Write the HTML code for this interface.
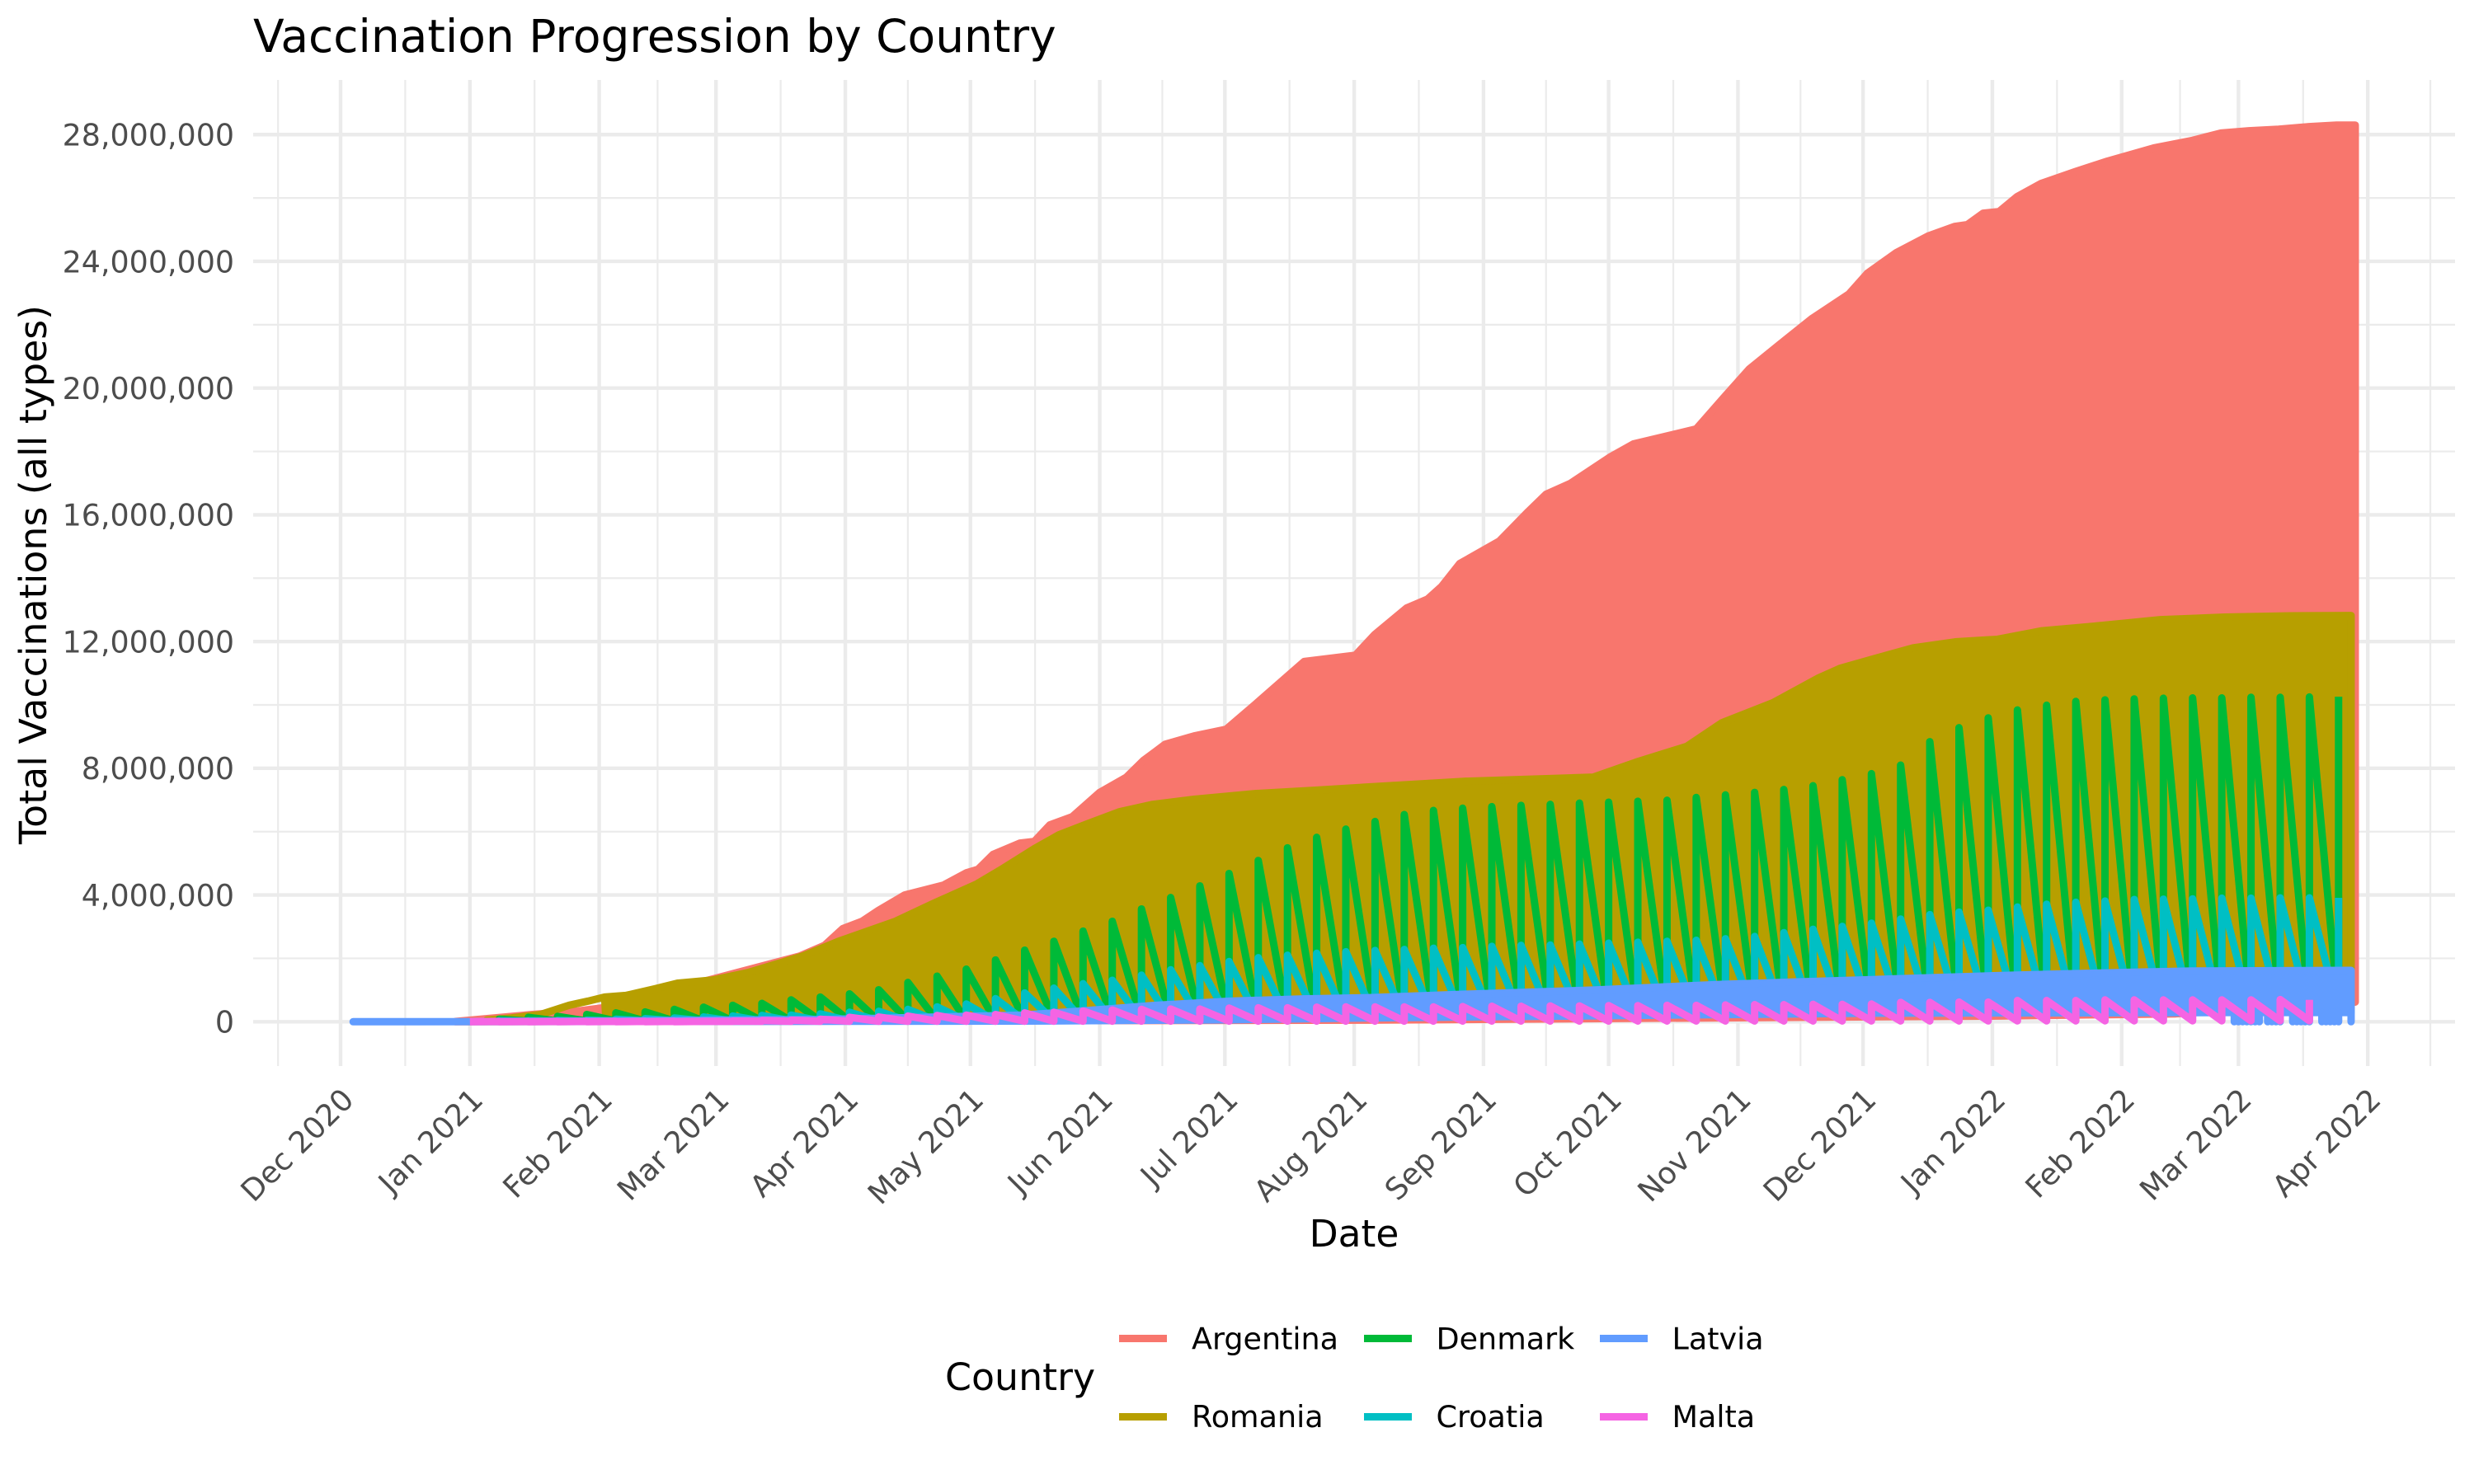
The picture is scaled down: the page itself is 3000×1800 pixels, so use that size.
<!DOCTYPE html>
<html lang="en">
<head>
<meta charset="utf-8">
<title>Vaccination Progression by Country</title>
<style>
html,body{margin:0;padding:0;background:#fff;}
svg{display:block;font-family:"DejaVu Sans","Liberation Sans",sans-serif;}
</style>
</head>
<body>
<svg id="chart" xmlns="http://www.w3.org/2000/svg" width="3000" height="1800" viewBox="0 0 3000 1800">
  <rect x="0" y="0" width="3000" height="1800" fill="#ffffff"/>
  <g id="grid"></g>
  <g id="series"></g>
  <g id="yticks"></g>
  <g id="xticks"></g>
  <text x="307" y="63" font-size="55" fill="#000">Vaccination Progression by Country</text>
  <text transform="translate(56,697) rotate(-90)" text-anchor="middle" font-size="45.83" fill="#000">Total Vaccinations (all types)</text>
  <text x="1642" y="1512" text-anchor="middle" font-size="45.5" fill="#000">Date</text>
  <g>
    <text x="1146" y="1686" font-size="45.83" fill="#000">Country</text>
    <g>
      <rect x="1357" y="1619" width="58" height="9" fill="#F8766D"/>
      <text x="1445" y="1636.5" font-size="36.5" fill="#000">Argentina</text>
    </g>
    <g>
      <rect x="1357" y="1714" width="58" height="9" fill="#B79F00"/>
      <text x="1445" y="1731" font-size="36.5" fill="#000">Romania</text>
    </g>
    <g>
      <rect x="1654" y="1619" width="58" height="9" fill="#00BA38"/>
      <text x="1741.5" y="1636.5" font-size="36.5" fill="#000">Denmark</text>
    </g>
    <g>
      <rect x="1654" y="1714" width="58" height="9" fill="#00BFC4"/>
      <text x="1741.5" y="1731" font-size="36.5" fill="#000">Croatia</text>
    </g>
    <g>
      <rect x="1940" y="1619" width="58" height="9" fill="#619CFF"/>
      <text x="2027.5" y="1636.5" font-size="36.5" fill="#000">Latvia</text>
    </g>
    <g>
      <rect x="1940" y="1714" width="58" height="9" fill="#F564E3"/>
      <text x="2027.5" y="1731" font-size="36.5" fill="#000">Malta</text>
    </g>
  </g>
</svg>
<script>
// All dates are days since 2020-12-01; all values are millions of doses.
const monthTickDays = [0,31,62,90,121,151,182,212,243,274,304,335,365,396,427,455,486];
const monthTickLabels = ["Dec 2020","Jan 2021","Feb 2021","Mar 2021","Apr 2021","May 2021","Jun 2021","Jul 2021","Aug 2021","Sep 2021","Oct 2021","Nov 2021","Dec 2021","Jan 2022","Feb 2022","Mar 2022","Apr 2022"];
const minorTickDays = [-15,15.5,46.5,76,105.5,136,166.5,197,227.5,258.5,289,319.5,350,380.5,411.5,441,470.5,501];
const yMajorTicks = [0,4,8,12,16,20,24,28];
const yMinorTicks = [2,6,10,14,18,22,26];
const yTickLabels = ["0","4,000,000","8,000,000","12,000,000","16,000,000","20,000,000","24,000,000","28,000,000"];

const argentinaDays = [27.5,46,57,63,110,116,120.4,125,128.9,135.2,144.5,150,152.8,156.4,162.9,166.3,170,175.4,181.9,188.4,192.4,197.7,204.6,212.3,219.2,227.1,231,243.3,247.9,255.6,260.6,263.9,268.3,277.8,284.7,289,294.8,304.3,310,325,331.4,337.7,345.2,352.7,361.6,366,372.9,380.6,386.9,390,393.8,397.6,401.9,407.7,415.8,423.5,434.7,443.7,450.8,457.5,464.6,471.9,478.5,483];
const argentinaHigh = [0.01,0.23,0.34,0.44,2.07,2.41,2.94,3.17,3.51,4.0,4.31,4.70,4.81,5.28,5.64,5.69,6.21,6.47,7.23,7.72,8.24,8.76,9.02,9.23,10.01,10.92,11.37,11.57,12.22,13.06,13.34,13.73,14.46,15.17,16.10,16.65,16.99,17.82,18.24,18.71,19.67,20.60,21.40,22.19,22.97,23.62,24.27,24.80,25.10,25.16,25.52,25.57,26.04,26.46,26.83,27.16,27.58,27.81,28.05,28.12,28.17,28.25,28.30,28.30];
const argentinaLowDays = [27.5,246,398,440,483];
const argentinaLow = [0.0,0.05,0.18,0.25,0.62];

const romaniaDays = [35,40.9,48,54.8,59.3,63.3,68.4,75.3,80.9,89.4,97.9,110.9,119.4,133,142.2,152.4,158.4,166.3,172.2,178.9,186.8,194.7,204.6,219.2,234.1,246.5,269.7,300.3,311.2,322.7,331.2,343.4,354.3,359.6,367.1,377,387.1,397.2,407.9,422.5,436.3,451.8,467.2,482];
const romaniaHigh = [0.05,0.12,0.23,0.52,0.65,0.78,0.83,1.04,1.22,1.32,1.56,2.08,2.54,3.17,3.74,4.34,4.81,5.46,5.90,6.24,6.63,6.86,7.02,7.20,7.31,7.41,7.59,7.72,8.22,8.69,9.44,10.07,10.85,11.16,11.44,11.80,11.99,12.07,12.34,12.51,12.69,12.77,12.81,12.82];
const romaniaLowDays = [35,40.9,48,54.8,59.3,63.3,63.6,163,213,246,367,482];
const romaniaLow = [0.05,0.12,0.23,0.52,0.65,0.78,0.08,0.08,0.10,0.16,0.32,0.32];

const weeklyDays = [38,45,52,59,66,73,80,87,94,101,108,115,122,129,136,143,150,157,164,171,178,185,192,199,206,213,220,227,234,241,248,255,262,269,276,283,290,297,304,311,318,325,332,339,346,353,360,367,374,381,388,395,402,409,416,423,430,437,444,451,458,465,472,479];
const denmarkHigh = [0.08,0.14,0.17,0.23,0.28,0.31,0.39,0.46,0.52,0.58,0.69,0.78,0.88,1.01,1.24,1.44,1.66,1.95,2.26,2.54,2.86,3.17,3.56,3.92,4.29,4.68,5.09,5.49,5.82,6.08,6.32,6.54,6.67,6.74,6.79,6.83,6.86,6.90,6.93,6.96,6.99,7.08,7.16,7.24,7.33,7.45,7.64,7.83,8.10,8.84,9.28,9.59,9.84,9.99,10.11,10.16,10.19,10.21,10.22,10.22,10.24,10.24,10.25,10.26];
const croatiaHigh = [0.03,0.03,0.04,0.05,0.08,0.10,0.12,0.15,0.18,0.20,0.21,0.25,0.30,0.33,0.39,0.47,0.56,0.73,0.91,1.06,1.20,1.31,1.47,1.64,1.77,1.90,2.02,2.10,2.16,2.21,2.25,2.28,2.32,2.34,2.38,2.41,2.42,2.45,2.48,2.51,2.54,2.57,2.62,2.69,2.81,2.92,3.01,3.11,3.24,3.38,3.46,3.52,3.62,3.71,3.77,3.81,3.86,3.87,3.88,3.90,3.90,3.91,3.91,3.91];
const sawFloorDays = [38,163,213,246,367,452,479];
const denmarkFloor = [0.02,0.03,0.08,0.14,0.30,0.31,0.31];
const croatiaFloor = [0.02,0.03,0.08,0.14,0.30,0.31,0.31];

const latviaDays = [3,31,116,163.7,177.7,195.5,213.1,230.7,246.5,269.7,300.3,331,367,398,413,428.6,444,482];
const latviaHigh = [0,0,0.07,0.21,0.34,0.52,0.65,0.72,0.76,0.87,1.00,1.18,1.33,1.46,1.51,1.56,1.60,1.62];
const latviaLowDays = [3,163,213,246,367,452,482];
const latviaLow = [0,0.02,0.06,0.12,0.27,0.29,0.29];
const latviaZeroDropDays = [454,455,456,457,458,459,460,462,463,464,465,468,469,470,471,472,475,476,477,478,479,482];

const maltaFirstDay = [31];
const maltaHigh = [0,0,0,0,0,0,0,0.01,0.02,0.04,0.05,0.08,0.14,0.15,0.18,0.20,0.21,0.23,0.28,0.30,0.34,0.37,0.39,0.40,0.40,0.43,0.44,0.44,0.46,0.47,0.47,0.47,0.47,0.48,0.49,0.49,0.50,0.50,0.51,0.51,0.52,0.52,0.53,0.54,0.54,0.55,0.55,0.56,0.61,0.61,0.62,0.62,0.67,0.67,0.67,0.69,0.69,0.69,0.69,0.69,0.69,0.70,0.69];
const maltaFloorDays = [38,479];
const maltaFloor = [0.01,0.03];

const NS = 'http://www.w3.org/2000/svg';
const LINE_WIDTH = 9;
function xScale(day){ return 413 + 5.058 * day; }
function yScale(millions){ return 1239.3 - 38.43 * millions; }
const panelLeft = 307, panelRight = 2977, panelTop = 97, panelBottom = 1293;

function pt(day, value){ return xScale(day).toFixed(2) + ' ' + yScale(value).toFixed(2); }

function valueAt(day, days, vals){
  if (day <= days[0]) return vals[0];
  for (let i = 1; i < days.length; i++) {
    if (day <= days[i]) {
      const f = (day - days[i-1]) / (days[i] - days[i-1]);
      return vals[i-1] + f * (vals[i] - vals[i-1]);
    }
  }
  return vals[vals.length - 1];
}
function bandPath(days, highs, lowDays, lows){
  let d = 'M' + pt(days[0], highs[0]);
  for (let i = 1; i < days.length; i++) d += 'L' + pt(days[i], highs[i]);
  for (let i = lowDays.length - 1; i >= 0; i--) d += 'L' + pt(lowDays[i], lows[i]);
  return d + 'Z';
}
function sawPath(days, highs, floorDays, floors){
  let d = '';
  for (let i = 0; i < highs.length; i++) {
    d += (i === 0 ? 'M' : 'L') + pt(days[i], valueAt(days[i], floorDays, floors));
    d += 'L' + pt(days[i], highs[i]);
  }
  return d;
}
function dropPath(days, lowDays, lows){
  let d = '';
  days.forEach(function(day){
    d += 'M' + pt(day, valueAt(day, lowDays, lows)) + 'L' + pt(day, 0);
  });
  return d;
}

const gridGroup = document.getElementById('grid');
function gridLine(x1, y1, x2, y2, width){
  const ln = document.createElementNS(NS, 'line');
  ln.setAttribute('x1', x1);
  ln.setAttribute('y1', y1);
  ln.setAttribute('x2', x2);
  ln.setAttribute('y2', y2);
  ln.setAttribute('stroke', '#ebebeb');
  ln.setAttribute('stroke-width', width);
  gridGroup.appendChild(ln);
  return ln;
}
minorTickDays.forEach(function(day){
  const el = gridLine(xScale(day), panelTop, xScale(day), panelBottom, 2.2);
  
  
});
yMinorTicks.forEach(function(v){
  const el = gridLine(panelLeft, yScale(v), panelRight, yScale(v), 2.2);
  
  
});
monthTickDays.forEach(function(day){
  const el = gridLine(xScale(day), panelTop, xScale(day), panelBottom, 4.4);
  
  
});
yMajorTicks.forEach(function(v){
  const el = gridLine(panelLeft, yScale(v), panelRight, yScale(v), 4.4);
  
  
});

const seriesGroup = document.getElementById('series');
function addPath(d, color, filled, cap){
  const p = document.createElementNS(NS, 'path');
  p.setAttribute('d', d);
  p.setAttribute('fill', filled ? color : 'none');
  p.setAttribute('stroke', color);
  p.setAttribute('stroke-width', LINE_WIDTH);
  p.setAttribute('stroke-linejoin', 'round');
  p.setAttribute('stroke-linecap', cap || 'butt');
  seriesGroup.appendChild(p);
  return p;
}
const argentinaMark = addPath(bandPath(argentinaDays, argentinaHigh, argentinaLowDays, argentinaLow), '#F8766D', true);


const romaniaMark = addPath(bandPath(romaniaDays, romaniaHigh, romaniaLowDays, romaniaLow), '#B79F00', true);


const denmarkMark = addPath(sawPath(weeklyDays, denmarkHigh, sawFloorDays, denmarkFloor), '#00BA38', false);


const croatiaMark = addPath(sawPath(weeklyDays, croatiaHigh, sawFloorDays, croatiaFloor), '#00BFC4', false);


const latviaMark = addPath(bandPath(latviaDays, latviaHigh, latviaLowDays, latviaLow), '#619CFF', true);


const latviaDrops = addPath(dropPath(latviaZeroDropDays, latviaLowDays, latviaLow), '#619CFF', false, 'round');


const maltaMark = addPath('M' + pt(maltaFirstDay[0], 0) + 'L' + sawPath(weeklyDays, maltaHigh, maltaFloorDays, maltaFloor).slice(1), '#F564E3', false);



const yTickGroup = document.getElementById('yticks');
yMajorTicks.forEach(function(v, i){
  const t = document.createElementNS(NS, 'text');
  
  
  t.setAttribute('x', 284);
  t.setAttribute('y', yScale(v) + 13.3);
  t.setAttribute('text-anchor', 'end');
  t.setAttribute('font-size', '36.4');
  t.setAttribute('fill', '#4D4D4D');
  t.textContent = yTickLabels[i];
  yTickGroup.appendChild(t);
});
const xTickGroup = document.getElementById('xticks');
monthTickDays.forEach(function(day, i){
  const t = document.createElementNS(NS, 'text');
  
  
  t.setAttribute('transform', 'translate(' + (xScale(day) + 18) + ',1336) rotate(-45)');
  t.setAttribute('text-anchor', 'end');
  t.setAttribute('font-size', '36.4');
  t.setAttribute('fill', '#4D4D4D');
  t.textContent = monthTickLabels[i];
  xTickGroup.appendChild(t);
});
</script>
</body>
</html>
